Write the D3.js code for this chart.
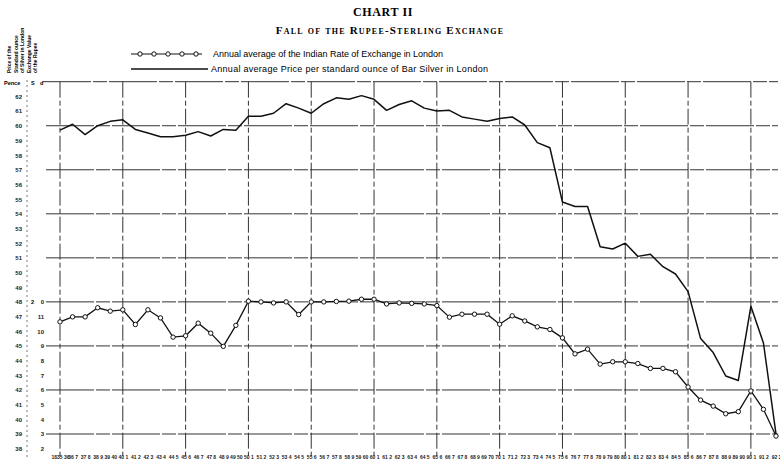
<!DOCTYPE html>
<html>
<head>
<meta charset="utf-8">
<script src="https://cdn.jsdelivr.net/npm/d3@7"></script>
<style>
  body { margin: 0; background: #fff; }
  svg { display: block; }
  .tick text { fill: #222; }
</style>
</head>
<body>
<div id="chart"></div>
<script>
// financial years, as printed under the chart
var years = ["1835 36","36 7","37 8","38 9","39 40","40 1","41 2","42 3","43 4","44 5",
  "45 6","46 7","47 8","48 9","49 50","50 1","51 2","52 3","53 4","54 5",
  "55 6","56 7","57 8","58 9","59 60","60 1","61 2","62 3","63 4","64 5",
  "65 6","66 7","67 8","68 9","69 70","70 1","71 2","72 3","73 4","74 5",
  "75 6","76 7","77 8","78 9","79 80","80 1","81 2","82 3","83 4","84 5",
  "85 6","86 7","87 8","88 9","89 90","90 1","91 2","92 3"];

// bar silver, pence per standard ounce
var silver = [59.7,60.1,59.4,60.0,60.3,60.4,59.75,59.5,59.25,59.25,
  59.35,59.6,59.3,59.75,59.7,60.65,60.65,60.85,61.5,61.2,
  60.85,61.5,61.9,61.8,62.05,61.8,61.05,61.45,61.7,61.2,
  61.0,61.05,60.6,60.45,60.3,60.5,60.6,60.05,58.85,58.5,
  54.8,54.5,54.5,51.75,51.6,52.0,51.1,51.25,50.4,49.9,
  48.7,45.5,44.55,42.95,42.65,47.7,45.2,39.0];

// rupee exchange, pence per rupee
var rupee = [22.64,22.98,22.98,23.6,23.37,23.46,22.46,23.46,22.91,21.6,
  21.69,22.55,21.87,20.97,22.4,24.05,24.0,23.93,24.0,23.14,
  24.0,24.0,24.03,24.05,24.18,24.18,23.86,23.93,23.9,23.86,
  23.75,22.96,23.16,23.16,23.16,22.48,23.05,22.7,22.3,22.12,
  21.55,20.46,20.78,19.76,19.92,19.92,19.8,19.47,19.47,19.24,
  18.2,17.31,16.9,16.38,16.52,17.93,16.68,14.86];

var silverTicks = [62,61,60,59,58,57,56,55,54,53,52,51,50,49,48,47,46,45,44,43,42,41,40,39,38];
var rupeeTicks = [24,23,22,21,20,19,18,17,16,15,14];
var rupeePence = ["0","11","10","9","8","7","6","5","4","3","2"];
var gridPence = [63,60,57,54,51,48,45,42,39];
var gridYears = ["1835 36","40 1","45 6","50 1","55 6","60 1","65 6","70 1","75 6","80 1","85 6","90 1"];

var width = 780, height = 463;

var svg = d3.select("#chart").append("svg")
  .attr("width", width)
  .attr("height", height);

// set the ranges
var x = d3.scalePoint().domain(years).range([60, 776]);
var y = d3.scaleLinear().domain([39, 63]).range([434, 81.7]);
var yr = d3.scaleLinear().domain([14, 24]).range([y(38), y(48)]);

// titles
svg.append("text")
  .attr("x", 383).attr("y", 16)
  .attr("text-anchor", "middle")
  .style("font-family", "Liberation Serif, serif")
  .style("font-weight", "bold")
  .style("font-size", "12px")
  .style("letter-spacing", "0.6px")
  .text("CHART II");
svg.append("text")
  .attr("x", 390).attr("y", 34)
  .attr("text-anchor", "middle")
  .style("font-family", "Liberation Serif, serif")
  .style("font-variant", "small-caps")
  .style("font-weight", "bold")
  .style("font-size", "11px")
  .style("letter-spacing", "1.2px")
  .text("Fall of the Rupee-Sterling Exchange");

// legend
var leg = svg.append("g");
leg.append("line").attr("x1", 131).attr("x2", 202).attr("y1", 54).attr("y2", 54)
  .attr("stroke", "#111").attr("stroke-width", 1.2);
leg.selectAll("circle").data([140, 154, 168, 182, 196]).enter().append("circle")
  .attr("cx", function(d) { return d; }).attr("cy", 54).attr("r", 2.2)
  .attr("fill", "#fff").attr("stroke", "#111").attr("stroke-width", 1);
leg.append("line").attr("x1", 131).attr("x2", 208).attr("y1", 69).attr("y2", 69)
  .attr("stroke", "#111").attr("stroke-width", 1.4);
leg.append("text").attr("x", 213).attr("y", 57)
  .attr("textLength", 230)
  .style("font-family", "Liberation Sans, sans-serif").style("font-size", "9px")
  .text("Annual average of the Indian Rate of Exchange in London");
leg.append("text").attr("x", 211).attr("y", 72)
  .attr("textLength", 277)
  .style("font-family", "Liberation Sans, sans-serif").style("font-size", "9px")
  .text("Annual average Price per standard ounce of Bar Silver in London");

// rotated axis caption
var cap = ["Price of the", "Standard ounce", "of Silver in London", "Exchange Value", "of the Rupee"];
svg.append("g").selectAll("text").data(cap).enter().append("text")
  .attr("transform", function(d, i) { return "translate(" + (11 + i * 6.6) + ",73) rotate(-90)"; })
  .style("font-family", "Liberation Sans, sans-serif")
  .style("font-weight", "bold")
  .style("font-size", "5px")
  .text(function(d) { return d; });

// grid
svg.append("g").selectAll("line").data(gridPence).enter().append("line")
  .attr("x1", function(d) { return d === 63 ? 43 : 46; })
  .attr("x2", 778)
  .attr("y1", function(d) { return y(d); })
  .attr("y2", function(d) { return y(d); })
  .attr("stroke", "#333").attr("stroke-width", 1)
  .attr("stroke-dasharray", "48,2,14,2");

svg.append("g").selectAll("line").data(gridYears).enter().append("line")
  .attr("x1", function(d) { return x(d); })
  .attr("x2", function(d) { return x(d); })
  .attr("y1", y(63)).attr("y2", 456)
  .attr("stroke", "#333").attr("stroke-width", 1)
  .attr("stroke-dasharray", "16,3,5,3");

// dotted separator between the two scales
svg.append("line")
  .attr("x1", 27).attr("x2", 27).attr("y1", 80).attr("y2", 458)
  .attr("stroke", "#555").attr("stroke-width", 0.8)
  .attr("stroke-dasharray", "2,3");

// silver scale (pence)
var ax1 = svg.append("g")
  .attr("transform", "translate(25,0)")
  .call(d3.axisLeft(y).tickValues(silverTicks).tickSize(0).tickFormat(d3.format("d")));
ax1.select(".domain").remove();
ax1.selectAll("text")
  .style("font-family", "Liberation Sans, sans-serif")
  .style("font-weight", "bold")
  .style("font-size", "6px");

// rupee scale (shillings and pence)
var ax2 = svg.append("g")
  .attr("transform", "translate(47,0)")
  .call(d3.axisLeft(yr).tickValues(rupeeTicks).tickSize(0)
    .tickFormat(function(d, i) { return rupeePence[i]; }));
ax2.select(".domain").remove();
ax2.selectAll("text")
  .style("font-family", "Liberation Sans, sans-serif")
  .style("font-weight", "bold")
  .style("font-size", "6px");

var hdr = svg.append("g")
  .style("font-family", "Liberation Sans, sans-serif")
  .style("font-weight", "bold")
  .style("font-size", "5.5px");
hdr.append("text").attr("x", 4).attr("y", 85).text("Pence");
hdr.append("text").attr("x", 31).attr("y", 85).text("S");
hdr.append("text").attr("x", 40).attr("y", 85).text("d");
hdr.append("text").attr("x", 31).attr("y", yr(24) + 2).text("2");

// year labels
var ax3 = svg.append("g")
  .attr("transform", "translate(0,453)")
  .call(d3.axisBottom(x).tickSize(0).tickPadding(2));
ax3.select(".domain").remove();
ax3.selectAll("text")
  .style("font-family", "Liberation Sans, sans-serif")
  .style("font-weight", "bold")
  .style("font-size", "5px");

// silver line
var silverLine = d3.line()
  .x(function(d, i) { return x(years[i]); })
  .y(function(d) { return y(d); });
svg.append("path")
  .datum(silver)
  .attr("d", silverLine)
  .attr("fill", "none")
  .attr("stroke", "#111")
  .attr("stroke-width", 1.5)
  .attr("stroke-linejoin", "round");

// rupee line with circles
var rupeeLine = d3.line()
  .x(function(d, i) { return x(years[i]); })
  .y(function(d) { return yr(d); });
svg.append("path")
  .datum(rupee)
  .attr("d", rupeeLine)
  .attr("fill", "none")
  .attr("stroke", "#111")
  .attr("stroke-width", 1.3);
svg.append("g").selectAll("circle")
  .data(rupee)
  .enter().append("circle")
  .attr("cx", function(d, i) { return x(years[i]); })
  .attr("cy", function(d) { return yr(d); })
  .attr("r", 2.2)
  .attr("fill", "#fff")
  .attr("stroke", "#111")
  .attr("stroke-width", 1);
</script>
</body>
</html>
